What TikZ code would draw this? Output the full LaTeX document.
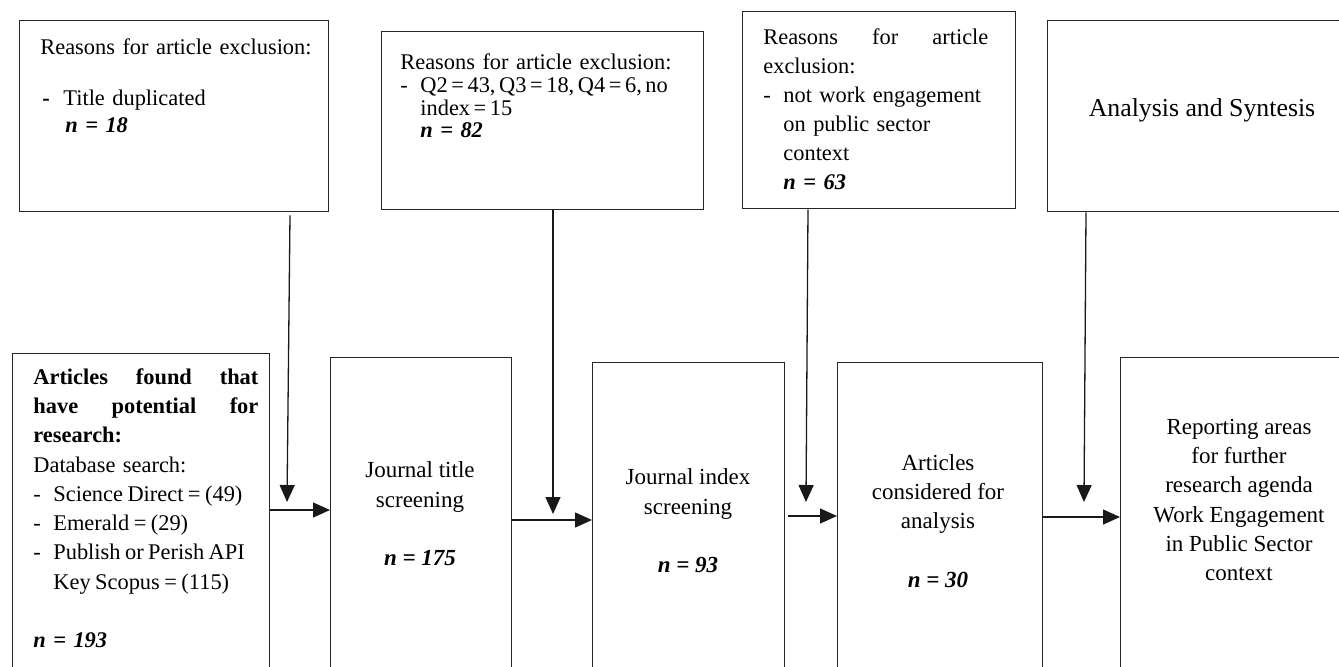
\documentclass[tikz,border=0pt]{standalone}
\usepackage{fontspec}
\setmainfont{Liberation Serif}
\usetikzlibrary{arrows.meta,calc}
\begin{document}
\begin{tikzpicture}[x=0.5pt,y=-0.5pt,
  box/.style={draw=black!85, line width=0.65pt, inner sep=0pt, anchor=north west},
  arr/.style={draw=black!90, line width=0.65pt, -{Triangle[length=8.5pt,width=7.5pt]}},
  toptxt/.style={inner sep=0pt, anchor=north west, align=left, font=\fontsize{11.2}{11}\selectfont},
  lefttxt/.style={inner sep=0pt, anchor=north west, align=left, font=\fontsize{11.2}{14.65}\selectfont},
  bottxt/.style={inner sep=0pt, align=center, font=\fontsize{11.5}{14.65}\selectfont}
]
\useasboundingbox (0,0) rectangle (1339,666);
\clip (0,0) rectangle (1339,666);

% top boxes
\node[box, minimum width=154.5pt, minimum height=95.5pt] (b1) at (19,20) {};
\node[box, minimum width=161pt, minimum height=89pt] (b2) at (381,31) {};
\node[box, minimum width=136.5pt, minimum height=98.5pt] (b3) at (742,11) {};
\node[box, minimum width=150pt, minimum height=95.5pt] (b4) at (1047,20) {};

% bottom boxes
\node[box, minimum width=128.5pt, minimum height=200pt] (A) at (12,353) {};
\node[box, minimum width=90.5pt, minimum height=200pt] (B) at (330,357) {};
\node[box, minimum width=96pt, minimum height=200pt] (C) at (592,362) {};
\node[box, minimum width=102.5pt, minimum height=200pt] (D) at (837,362) {};
\node[box, minimum width=125pt, minimum height=200pt] (E) at (1120,357) {};

% texts of top boxes
\node[toptxt, text width=150pt] (t1) at (40,38) {Reasons for article exclusion:\\[14.5pt]
\hspace*{1pt}\makebox[10.5pt][l]{\textbf{-}}Title duplicated\\[2.5pt]
\hspace*{12.5pt}\textbf{\textit{n = 18}}};

\node[toptxt, text width=160pt] (t2) at (400,53) {Reasons for article exclusion:\\[0.5pt]
\makebox[10pt][l]{-}{\spaceskip=0.16em Q2 = 43, Q3 = 18, Q4 = 6, no}\\[0.5pt]
\hspace*{10pt}{\spaceskip=0.16em index = 15}\\
\hspace*{10pt}\textbf{\textit{n = 82}}};

\node[toptxt, text width=125pt, font=\fontsize{11.2}{14.5}\selectfont] (t3) at (763,28) {\hbox to 112.5pt{Reasons\hfil for\hfil article}\\
exclusion:\\
\makebox[10pt][l]{-}not work engagement\\
\hspace*{10pt}on public sector\\
\hspace*{10pt}context\\
\hspace*{10pt}\textbf{\textit{n = 63}}};

\node[inner sep=0pt, font=\fontsize{12.9}{15}\selectfont] (t4) at (1202,110) {Analysis and Syntesis};

% texts of bottom boxes
\node[lefttxt, text width=125pt] (tA) at (33,368) {\textbf{\hbox to 112.5pt{Articles\hfil found\hfil that}}\\
\textbf{\hbox to 112.5pt{have\hfil potential\hfil for}}\\
\textbf{research:}\\
Database search:\\
\makebox[10pt][l]{-}{\spaceskip=0.2em Science Direct = (49)}\\
\makebox[10pt][l]{-}{\spaceskip=0.2em Emerald = (29)}\\
\makebox[10pt][l]{-}{\spaceskip=0.2em Publish or Perish API}\\
\hspace*{10pt}{\spaceskip=0.2em Key Scopus = (115)}\\[14.65pt]
\textbf{\textit{n = 193}}};

\node[bottxt] (tB) at (420,514) {Journal title\\screening\\[14.65pt]\textbf{\textit{n = 175}}};
\node[bottxt] (tC) at (688,521) {Journal index\\screening\\[14.65pt]\textbf{\textit{n = 93}}};
\node[bottxt] (tD) at (938,521) {Articles\\considered for\\analysis\\[14.65pt]\textbf{\textit{n = 30}}};
\node[bottxt] (tE) at (1239,500) {Reporting areas\\for further\\research agenda\\Work Engagement\\in Public Sector\\context};

% vertical arrows
\coordinate (v1s) at (290,0);  \coordinate (v1) at (287,502);
\coordinate (v2s) at (553,0);  \coordinate (v2) at (553,514);
\coordinate (v3s) at (808,0);  \coordinate (v3) at (806,502);
\coordinate (v4s) at (1086,0); \coordinate (v4) at (1084,502);
\draw[arr] ([yshift=-1.5pt]b1.south -| v1s) -- (v1);
\draw[arr] (b2.south -| v2s) -- (v2);
\draw[arr] (b3.south -| v3s) -- (v3);
\draw[arr] (b4.south -| v4s) -- (v4);

% horizontal arrows
\coordinate (h1) at (0,510);
\coordinate (h2) at (0,520);
\coordinate (h3) at (0,516);
\coordinate (h4) at (0,517);
\draw[arr] (A.east |- h1) -- (B.west |- h1);
\draw[arr] (B.east |- h2) -- (C.west |- h2);
\draw[arr] ([xshift=1.5pt]C.east |- h3) -- (D.west |- h3);
\draw[arr] (D.east |- h4) -- (E.west |- h4);
\end{tikzpicture}
\end{document}
